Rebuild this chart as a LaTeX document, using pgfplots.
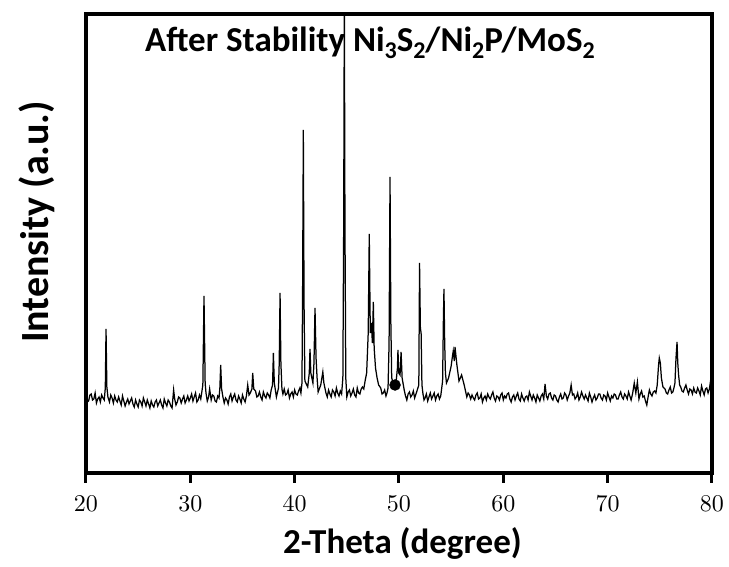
\documentclass[border=0pt]{standalone}
\usepackage{pgfplots}
\pgfplotsset{compat=1.18}
\usepackage{fontspec}
\newfontfamily\carlito{Carlito}
\newfontfamily\tickfont{lmroman10-regular}[Extension=.otf]
\newcommand\sub[1]{\raisebox{-7pt}{\fontsize{24}{24}\selectfont #1}}
\begin{document}
\begin{tikzpicture}
\useasboundingbox (-86pt,-94pt) rectangle (643pt,473pt);
\begin{axis}[
  scale only axis, width=626pt, height=459pt,
  xmin=20, xmax=80, ymin=0, ymax=459,
  axis line style={line width=4pt},
  xtick={20,30,...,80}, ytick=\empty,
  tick align=outside, xtick pos=lower,
  major tick length=10pt, tick style={line width=3pt, black},
  /pgf/number format/assume math mode=true,
  xticklabel style={font=\fontsize{24}{28}\selectfont\tickfont, yshift=-9pt},
  xlabel={2-Theta (degree)},
  xlabel style={font=\fontsize{35}{40}\selectfont\carlito\bfseries, at={(axis description cs:0.5056,-0.1743)}, anchor=base},
  ylabel={Intensity (a.u.)},
  ylabel style={font=\fontsize{40}{44}\selectfont\carlito\bfseries, at={(axis description cs:-0.0607,0.547)}, anchor=base},
  clip=true,
]
\addplot[black, line width=1.25pt] coordinates {
(20,77)(20.125,71)(20.25,72)(20.375,78)(20.5,79)(20.625,73)(20.75,74)(20.875,80)(21,70)(21.125,74)(21.25,76)(21.375,71)(21.5,78)(21.625,75)(21.75,73)(21.85,85)(21.92,144)(22,86)(22.1,76)
(22.25,71)(22.375,78)(22.5,75)(22.625,70)(22.75,77)(22.875,73)(23,71)(23.125,76)(23.25,72)(23.375,68)(23.5,77)(23.625,72)(23.75,67)(23.875,71)(24,74)(24.125,69)(24.25,72)(24.375,75)(24.5,69)(24.625,66)(24.75,73)(24.875,69)(25,66)(25.125,73)(25.25,71)(25.375,67)(25.5,75)(25.625,71)(25.75,67)(25.875,73)(26,69)(26.125,65)(26.25,72)(26.375,68)(26.5,66)(26.625,71)(26.75,73)(26.875,67)(27,70)(27.125,73)(27.25,68)(27.375,65)(27.5,74)(27.625,70)(27.75,67)(27.875,73)(28,71)(28.125,67)(28.25,65)(28.4,83)(28.5,74)(28.625,68)(28.75,71)(28.875,76)(29,75)(29.125,70)(29.25,74)(29.375,77)(29.5,70)(29.625,73)(29.75,77)(29.875,72)(30,75)(30.125,79)(30.25,72)(30.375,76)(30.5,80)(30.625,71)(30.75,73)(30.875,78)(31,74)
(31.2,88)(31.31,177)(31.42,90)
(31.5,80)(31.625,72)(31.75,76)(31.85,84)(32,73)(32.125,78)(32.25,77)(32.375,72)(32.5,71)(32.625,77)(32.75,75)(32.83,85)(32.91,108)(33,84)(33.125,76)(33.25,70)(33.375,75)(33.5,73)(33.625,69)(33.75,76)(33.875,79)(34,72)(34.125,76)(34.25,79)(34.375,73)(34.5,71)(34.625,77)(34.75,74)(34.875,70)(35,78)(35.125,74)(35.25,71)(35.375,77)(35.5,88)(35.625,78)(35.75,80)(35.9,84)(35.98,100)(36.08,84)(36.25,82)(36.375,76)(36.5,77)(36.625,81)(36.75,76)(36.875,73)(37,81)(37.125,77)(37.25,75)(37.375,80)(37.5,78)(37.625,75)(37.75,83)
(37.88,88)(37.96,120)(38.05,90)(38.25,76)(38.45,85)(38.52,110)(38.6,180)(38.68,110)(38.78,84)
(38.875,79)(39,84)(39.125,78)(39.25,79)(39.375,83)(39.5,75)(39.625,79)(39.75,81)(39.875,76)(40,83)(40.125,79)(40.25,78)(40.375,82)(40.5,85)(40.6,80)
(40.7,90)(40.76,180)(40.83,343)(40.9,170)(40.98,92)(41.25,86)(41.4,100)(41.47,124)(41.55,100)(41.75,90)(41.85,110)(41.95,165)(42.05,115)(42.15,95)(42.25,81)(42.5,88)(42.7,101)(42.8,90)
(43,80)(43.125,76)(43.25,83)(43.375,79)(43.5,76)(43.625,83)(43.75,81)(43.875,77)(44,85)(44.125,80)(44.25,77)(44.375,82)(44.5,79)
(44.62,95)(44.7,250)(44.76,480)(44.82,250)(44.9,95)
(45,76)(45.125,81)(45.25,83)(45.375,77)(45.5,80)(45.625,84)(45.75,78)(45.875,76)(46,85)(46.125,80)(46.25,79)(46.375,84)(46.5,86)(46.625,84)(46.75,92)
(46.9,100)(47.05,140)(47.15,239)(47.25,140)(47.35,150)(47.45,130)(47.54,171)(47.62,125)(47.75,105)(47.9,95)(48.05,88)
(48.25,85)(48.375,79)(48.5,80)(48.625,83)(48.75,77)(48.85,80)
(48.95,85)(49.05,130)(49.14,296)(49.22,150)(49.3,95)(49.45,90)(49.5,87)(49.75,94)(49.85,105)(49.9,123)(49.98,100)(50.1,98)(50.2,121)(50.3,95)
(50.5,83)(50.625,77)(50.75,73)(50.875,79)(51,81)(51.125,76)(51.25,78)(51.375,82)(51.5,75)(51.625,79)(51.75,83)
(51.9,88)(51.97,210)(52.05,145)(52.12,140)(52.2,88)
(52.3,79)(52.4,73)(52.5,75)(52.625,79)(52.75,72)(52.875,76)(53,80)(53.125,74)(53.25,77)(53.375,80)(53.5,73)(53.625,77)(53.75,79)(53.875,74)(54,77)
(54.18,92)(54.25,150)(54.31,184)(54.38,130)(54.45,100)(54.55,90)(54.75,95)(55,107)(55.1,115)(55.2,122)(55.3,112)(55.37,126)(55.45,118)(55.55,108)(55.75,92)(56,98)
(56.25,88)(56.375,82)(56.5,76)(56.625,80)(56.75,78)(56.875,74)(57,78)(57.125,75)(57.25,73)(57.375,78)(57.5,80)(57.625,74)(57.75,75)(57.875,79)(58,71)(58.125,75)(58.25,77)(58.375,73)(58.5,79)(58.625,76)(58.75,74)(58.875,78)(59,81)(59.125,75)(59.25,72)(59.375,77)(59.5,76)(59.625,73)(59.75,78)(59.875,80)(60,73)(60.125,77)(60.25,75)(60.375,79)(60.5,80)(60.625,74)(60.75,71)(60.875,76)(61,78)(61.125,73)(61.25,77)(61.375,80)(61.5,74)(61.625,72)(61.75,79)(61.875,75)(62,72)(62.125,76)(62.25,77)(62.375,73)(62.5,81)(62.625,77)(62.75,73)(62.875,78)(63,75)(63.125,71)(63.25,78)(63.375,75)(63.5,72)(63.625,77)(63.75,79)(63.875,74)(64,89)(64.125,77)(64.25,74)(64.375,79)(64.5,80)(64.625,75)(64.75,73)(64.875,78)(65,77)(65.125,73)(65.25,71)(65.375,76)(65.5,79)(65.625,74)(65.75,75)(65.875,80)(66,78)(66.125,73)(66.25,77)(66.375,80)(66.5,88)(66.625,78)(66.75,79)(66.875,74)(67,76)(67.125,80)(67.25,73)(67.375,76)(67.5,81)(67.625,77)(67.75,74)(67.875,78)(68,75)(68.125,72)(68.25,80)(68.375,76)(68.5,71)(68.625,75)(68.75,78)(68.875,73)(69,75)(69.125,79)(69.25,79)(69.375,75)(69.5,73)(69.625,78)(69.75,77)(69.875,73)(70,80)(70.125,76)(70.25,72)(70.375,77)(70.5,75)(70.625,79)(70.75,78)(70.875,74)(71,74)(71.125,78)(71.25,81)(71.375,76)(71.5,74)(71.625,79)(71.75,77)(71.875,74)(72,81)(72.125,77)(72.25,73)(72.4,80)(72.55,90)(72.7,80)(72.85,91)(73,74)(73.125,79)(73.25,82)(73.375,76)(73.5,77)(73.625,72)(73.75,68)(73.875,76)(74,83)(74.125,79)(74.25,77)(74.375,81)(74.5,82)(74.625,80)
(74.75,88)(74.88,108)(74.95,115)(75.05,110)(75.15,95)(75.3,86)
(75.5,84)(75.625,80)(75.75,79)(75.875,83)(76,86)(76.125,80)(76.25,81)(76.35,85)
(76.45,90)(76.55,115)(76.65,131)(76.72,110)(76.8,98)(76.9,88)
(77,86)(77.125,82)(77.25,81)(77.375,85)(77.5,88)(77.625,83)(77.75,79)(77.875,84)(78,83)(78.125,79)(78.25,85)(78.375,81)(78.5,80)(78.625,85)(78.75,82)(78.875,78)(79,87)(79.125,82)(79.25,78)(79.375,84)(79.5,85)(79.625,80)(79.75,84)(79.9,95)(80,88)
};
\addplot[only marks, mark=*, mark size=5.5pt, black] coordinates {(49.62,88)};
\node[anchor=base west, font=\fontsize{35}{40}\selectfont\carlito\bfseries, inner sep=0pt] at (axis description cs:0.0942,0.9172) {After Stability Ni\sub{3}S\sub{2}/Ni\sub{2}P/MoS\sub{2}};
\end{axis}
\end{tikzpicture}
\end{document}
